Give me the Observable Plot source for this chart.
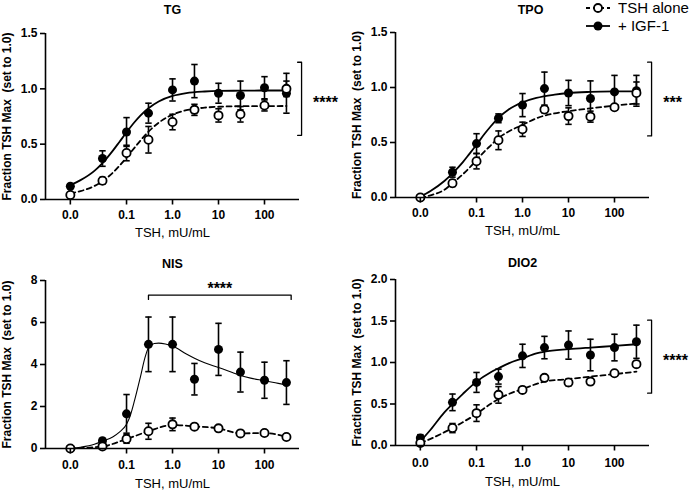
<!DOCTYPE html>
<html><head><meta charset="utf-8">
<script src="https://cdn.jsdelivr.net/npm/d3@7"></script>
<script src="https://cdn.jsdelivr.net/npm/@observablehq/plot@0.6"></script>
<style>
body{margin:0;background:#fff;font-family:"Liberation Sans",Arial,sans-serif;}
#wrap{position:relative;width:700px;height:492px;overflow:hidden;}
.panel{position:absolute;}
.panel svg{overflow:visible;}
#legend{position:absolute;left:585px;top:-1px;font-size:15px;line-height:18px;color:#000;}
#legend div{display:flex;align-items:center;height:18px;}
#legend svg{margin-right:7px;}
</style></head><body><div id="wrap"></div>
<script>
// ---- shared data ----
const doses = [0.006, 0.03, 0.1, 0.3, 1, 3, 10, 30, 100, 300];
const xTickValues = [0.006, 0.1, 1, 10, 100];
const xTickLabels = ["0.0", "0.1", "1.0", "10", "100"];
const seriesNames = ["TSH alone", "+ IGF-1"];
const xAxisLabel = "TSH, mU/mL";
const yAxisLabel = "Fraction TSH Max\u00a0 (set to 1.0)";
const fitX = [0.006, 0.01, 0.02, 0.03, 0.05, 0.07, 0.1, 0.15, 0.2, 0.3, 0.5, 1, 2, 5, 10, 30, 100, 300];

// ---- TG ----
const tgIGF    = [0.12, 0.37, 0.61, 0.78, 0.99, 1.07, 0.96, 0.94, 1.01, 0.96];
const tgIGFErr = [0.02, 0.07, 0.13, 0.09, 0.10, 0.15, 0.09, 0.13, 0.10, 0.18];
const tgTSH    = [0.04, 0.17, 0.42, 0.54, 0.70, 0.81, 0.76, 0.77, 0.85, 1.00];
const tgTSHErr = [0.02, 0.03, 0.07, 0.12, 0.07, 0.05, 0.06, 0.07, 0.05, 0.07];
const tgFitIGF = [0.13, 0.175, 0.259, 0.329, 0.439, 0.520, 0.607, 0.700, 0.758, 0.825, 0.886, 0.936, 0.962, 0.976, 0.981, 0.983, 0.985, 0.985];
const tgFitTSH = [0.057, 0.076, 0.122, 0.165, 0.241, 0.304, 0.379, 0.469, 0.532, 0.613, 0.694, 0.767, 0.807, 0.830, 0.838, 0.843, 0.844, 0.845];

// ---- TPO ----
const tpoIGF    = [0.00, 0.23, 0.49, 0.72, 0.84, 0.99, 0.95, 0.90, 0.96, 0.97];
const tpoIGFErr = [0.01, 0.045, 0.09, 0.04, 0.105, 0.15, 0.115, 0.16, 0.15, 0.14];
const tpoTSH    = [0.00, 0.13, 0.33, 0.52, 0.62, 0.80, 0.74, 0.735, 0.82, 0.95];
const tpoTSHErr = [0.01, 0.03, 0.07, 0.085, 0.065, 0.03, 0.075, 0.05, 0.02, 0.10];
const tpoFitIGF = [0.01, 0.06, 0.15, 0.22, 0.32, 0.397, 0.48, 0.579, 0.643, 0.724, 0.80, 0.865, 0.905, 0.935, 0.95, 0.96, 0.964, 0.965];
const tpoFitTSH = [0.0, 0.02, 0.07, 0.13, 0.21, 0.27, 0.34, 0.42, 0.47, 0.54, 0.60, 0.66, 0.72, 0.765, 0.785, 0.81, 0.835, 0.855];

// ---- NIS ----
const nisIGF    = [0.00, 0.37, 1.65, 4.96, 4.96, 3.30, 4.72, 3.64, 3.25, 3.14];
const nisIGFErr = [0.05, 0.10, 0.92, 1.30, 1.30, 0.75, 1.24, 0.95, 0.86, 1.04];
const nisTSH    = [0.00, 0.10, 0.45, 0.82, 1.15, 1.04, 0.96, 0.72, 0.74, 0.55];
const nisTSHErr = [0.02, 0.05, 0.20, 0.38, 0.30, 0.08, 0.08, 0.08, 0.06, 0.06];
const nisFitIGFX = [0.006, 0.01, 0.02, 0.03, 0.05, 0.07, 0.1, 0.12, 0.15, 0.2, 0.25, 0.3, 0.4, 0.5, 0.7, 1, 2, 3, 5, 10, 20, 30, 50, 100, 200, 300];
const nisFitIGF  = [0.0, 0.06, 0.2, 0.35, 0.55, 0.78, 1.16, 1.55, 2.3, 3.4, 4.3, 4.8, 5.0, 5.02, 4.98, 4.88, 4.5, 4.3, 4.08, 3.86, 3.62, 3.48, 3.35, 3.23, 3.1, 3.03];
const nisFitTSH  = [0.0, 0.1, 0.45, 0.82, 1.12, 1.05, 0.96, 0.72, 0.74, 0.55];

// ---- DIO2 ----
const dioIGF    = [0.09, 0.52, 0.76, 0.83, 1.08, 1.18, 1.21, 1.09, 1.18, 1.25];
const dioIGFErr = [0.04, 0.10, 0.12, 0.09, 0.14, 0.135, 0.17, 0.19, 0.16, 0.20];
const dioTSH    = [0.03, 0.21, 0.39, 0.61, 0.67, 0.815, 0.76, 0.77, 0.87, 0.98];
const dioTSHErr = [0.02, 0.055, 0.10, 0.10, 0.01, 0.02, 0.04, 0.03, 0.02, 0.02];
const dioFitIGFX = [0.006, 0.01, 0.02, 0.03, 0.05, 0.1, 0.2, 0.3, 0.5, 1, 2, 3, 10, 30, 100, 300];
const dioFitIGF  = [0.05, 0.19, 0.40, 0.50, 0.62, 0.77, 0.88, 0.93, 0.99, 1.05, 1.11, 1.13, 1.16, 1.18, 1.20, 1.22];
const dioFitTSHX = [0.006, 0.01, 0.02, 0.03, 0.05, 0.1, 0.2, 0.3, 0.5, 1, 3, 10, 30, 100, 300];
const dioFitTSH  = [0.03, 0.08, 0.16, 0.21, 0.28, 0.38, 0.50, 0.56, 0.62, 0.68, 0.77, 0.80, 0.83, 0.86, 0.89];

// ---- significance annotations ----
const sigLabels = ["****", "***", "****", "****"];
const sigRanges = [[0.58, 1.24], [0.56, 1.23], [7.1, 7.3], [0.63, 1.51]];

// ---- drawing ----
const xDomain = [0.00173, 577];
const cap = {draw(ctx) { ctx.moveTo(-3.2, 0); ctx.lineTo(3.2, 0); }};
const downTick = {draw(ctx) { ctx.moveTo(0, 0); ctx.lineTo(0, 5); }};
const font = "'Liberation Sans', Arial, sans-serif";
const xTicks = xTickValues.map((v, i) => ({v, label: xTickLabels[i]}));

function rows(ys, errs) {
  return doses.map((x, i) => ({x, y: ys[i], lo: ys[i] - errs[i], hi: ys[i] + errs[i]}));
}
function pts(xs, ys) { return xs.map((x, i) => ({x, y: ys[i]})); }

function bracketMarks(cfg) {
  const [a, b] = cfg.sig;
  if (cfg.horizontal) {
    const path = [{x: 0.3, y: a}, {x: 0.3, y: b}, {x: 380, y: b}, {x: 380, y: a}];
    return [
      Plot.line(path, {x: "x", y: "y", stroke: "black", strokeWidth: 1.3}),
      Plot.text([cfg.sigLabel], {x: () => 10.7, y: () => b, dy: -6, fontSize: 16, fontWeight: "bold"})
    ];
  }
  const path = [{x: 525, y: a}, {x: 640, y: a}, {x: 640, y: b}, {x: 525, y: b}];
  return [
    Plot.line(path, {x: "x", y: "y", stroke: "black", strokeWidth: 1.3}),
    Plot.text([cfg.sigLabel], {x: () => 640, y: () => (a + b) / 2, dx: cfg.starDx, dy: 4, fontSize: 16, fontWeight: "bold"})
  ];
}

function makePanel(cfg) {
  const igf = rows(cfg.igf, cfg.igfErr);
  const tsh = rows(cfg.tsh, cfg.tshErr);
  const yMap = new Map(cfg.yTicks.map((v, i) => [v, cfg.yTickLabels[i]]));
  return Plot.plot({
    width: 350, height: 246,
    marginLeft: 45, marginRight: 51, marginTop: cfg.mt, marginBottom: cfg.mb,
    x: {type: "log", domain: xDomain, axis: null},
    y: {domain: [0, cfg.yMax]},
    style: {fontFamily: font, fontSize: "12px", fontWeight: "bold", color: "black", background: "white", overflow: "visible"},
    marks: [
      Plot.line(pts(cfg.fitTshX, cfg.fitTsh), {x: "x", y: "y", curve: "monotone-x", stroke: "black", strokeWidth: 1.8, strokeDasharray: "5,3.5"}),
      Plot.line(pts(cfg.fitIgfX, cfg.fitIgf), {x: "x", y: "y", curve: "monotone-x", stroke: "black", strokeWidth: cfg.igfLineW}),
      Plot.ruleX(igf, {x: "x", y1: "lo", y2: "hi", stroke: "black", strokeWidth: 1.6}),
      Plot.dot(igf, {x: "x", y: "hi", symbol: cap, fill: "none", stroke: "black", strokeWidth: 1.6}),
      Plot.dot(igf, {x: "x", y: "lo", symbol: cap, fill: "none", stroke: "black", strokeWidth: 1.6}),
      Plot.ruleX(tsh, {x: "x", y1: "lo", y2: "hi", stroke: "black", strokeWidth: 1.6}),
      Plot.dot(tsh, {x: "x", y: "hi", symbol: cap, fill: "none", stroke: "black", strokeWidth: 1.6}),
      Plot.dot(tsh, {x: "x", y: "lo", symbol: cap, fill: "none", stroke: "black", strokeWidth: 1.6}),
      Plot.dot(igf, {x: "x", y: "y", r: 4.5, fill: "black", stroke: "none"}),
      Plot.dot(tsh, {x: "x", y: "y", r: 4.1, fill: "white", stroke: "black", strokeWidth: 1.8}),
      Plot.ruleY([0], {stroke: "black", strokeWidth: 1.6}),
      Plot.ruleX([xDomain[0]], {y1: 0, y2: cfg.yMax, stroke: "black", strokeWidth: 1.6}),
      // x axis ticks and labels
      Plot.dot(xTicks, {x: "v", y: () => 0, symbol: downTick, fill: "none", stroke: "black", strokeWidth: 1.6}),
      Plot.text(xTicks, {x: "v", frameAnchor: "bottom", lineAnchor: "middle", dy: cfg.xTickDy, text: "label", fontSize: 12, fontWeight: "bold"}),
      Plot.axisY({ticks: cfg.yTicks, tickFormat: d => yMap.get(d), tickSize: 5, tickPadding: 3, strokeWidth: 1.6, label: null}),
      Plot.text([cfg.title], {frameAnchor: "top", lineAnchor: "middle", dy: cfg.titleDy, dx: cfg.titleDx, fontSize: 12.5, fontWeight: "bold"}),
      Plot.text([xAxisLabel], {frameAnchor: "bottom", lineAnchor: "middle", dy: cfg.xLabelDy, fontSize: 13, fontWeight: "normal"}),
      Plot.text([yAxisLabel], {frameAnchor: "left", lineAnchor: "middle", rotate: -90, dx: -38, textAnchor: "middle", fontSize: 12, fontWeight: "bold"}),
      ...bracketMarks(cfg)
    ]
  });
}

const configs = [
  {left: 0, top: 0, title: "TG", mt: 33, mb: 47, yMax: 1.5, yTicks: [0, 0.5, 1, 1.5], yTickLabels: ["0.0", "0.5", "1.0", "1.5"],
   igf: tgIGF, igfErr: tgIGFErr, tsh: tgTSH, tshErr: tgTSHErr,
   fitIgfX: fitX, fitIgf: tgFitIGF, fitTshX: fitX, fitTsh: tgFitTSH, igfLineW: 1.8,
   titleDy: -23.5, titleDx: 0, xLabelDy: 33, xTickDy: 16, sig: sigRanges[0], sigLabel: sigLabels[0], starDx: 24},
  {left: 350, top: 0, title: "TPO", mt: 32, mb: 49, yMax: 1.5, yTicks: [0, 0.5, 1, 1.5], yTickLabels: ["0.0", "0.5", "1.0", "1.5"],
   igf: tpoIGF, igfErr: tpoIGFErr, tsh: tpoTSH, tshErr: tpoTSHErr,
   fitIgfX: fitX, fitIgf: tpoFitIGF, fitTshX: fitX, fitTsh: tpoFitTSH, igfLineW: 1.8,
   titleDy: -23, titleDx: 8, xLabelDy: 33, xTickDy: 16, sig: sigRanges[1], sigLabel: sigLabels[1], starDx: 21},
  {left: 0, top: 246, title: "NIS", mt: 34, mb: 44, yMax: 8, yTicks: [0, 2, 4, 6, 8], yTickLabels: ["0", "2", "4", "6", "8"],
   igf: nisIGF, igfErr: nisIGFErr, tsh: nisTSH, tshErr: nisTSHErr,
   fitIgfX: nisFitIGFX, fitIgf: nisFitIGF, fitTshX: doses, fitTsh: nisFitTSH, igfLineW: 1.1,
   titleDy: -17, titleDx: 0, xLabelDy: 35, xTickDy: 17, sig: sigRanges[2], sigLabel: sigLabels[2], horizontal: true},
  {left: 350, top: 246, title: "DIO2", mt: 33, mb: 47, yMax: 2, yTicks: [0, 0.5, 1, 1.5, 2], yTickLabels: ["0.0", "0.5", "1.0", "1.5", "2.0"],
   igf: dioIGF, igfErr: dioIGFErr, tsh: dioTSH, tshErr: dioTSHErr,
   fitIgfX: dioFitIGFX, fitIgf: dioFitIGF, fitTshX: dioFitTSHX, fitTsh: dioFitTSH, igfLineW: 1.8,
   titleDy: -16.5, titleDx: 0, xLabelDy: 36, xTickDy: 18, sig: sigRanges[3], sigLabel: sigLabels[3], starDx: 24}
];

const wrap = document.getElementById("wrap");
for (const cfg of configs) {
  const div = document.createElement("div");
  div.className = "panel";
  div.style.left = cfg.left + "px";
  div.style.top = cfg.top + "px";
  div.appendChild(makePanel(cfg));
  wrap.appendChild(div);
}

// legend
const legend = document.createElement("div");
legend.id = "legend";
const sym = [
  `<svg width="26" height="14"><line x1="1" y1="7" x2="25" y2="7" stroke="black" stroke-width="1.8" stroke-dasharray="4,3"/><circle cx="13" cy="7" r="4" fill="white" stroke="black" stroke-width="1.8"/></svg>`,
  `<svg width="26" height="14"><line x1="1" y1="7" x2="25" y2="7" stroke="black" stroke-width="1.8"/><circle cx="13" cy="7" r="4.5" fill="black"/></svg>`
];
seriesNames.forEach((name, i) => {
  const row = document.createElement("div");
  row.innerHTML = sym[i];
  const span = document.createElement("span");
  span.textContent = name;
  row.appendChild(span);
  legend.appendChild(row);
});
wrap.appendChild(legend);
</script></body></html>
